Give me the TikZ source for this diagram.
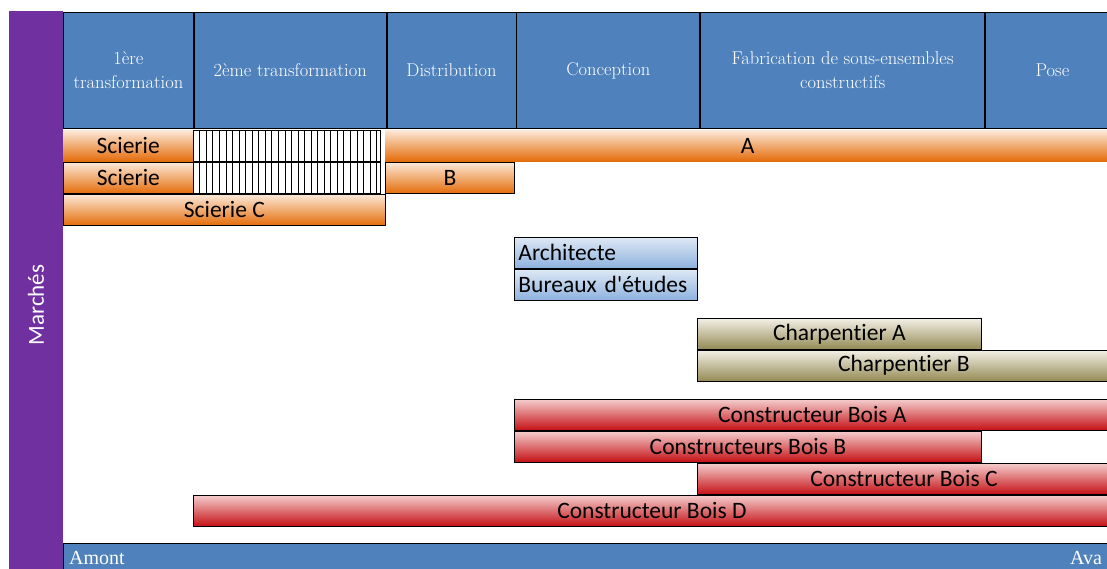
\documentclass[tikz,border=0pt]{standalone}
\usepackage{fontspec}
\newfontfamily\barfont[Ligatures=NoCommon]{Carlito}
\newfontfamily\axisfont{Liberation Serif}
\usetikzlibrary{positioning}

\definecolor{hdrblue}{RGB}{79,129,189}
\definecolor{marchepurple}{RGB}{112,48,160}
\definecolor{orangetop}{RGB}{252,232,216}
\definecolor{orangebot}{RGB}{228,108,10}
\definecolor{redtop}{RGB}{244,204,204}
\definecolor{redbot}{RGB}{196,16,20}
\definecolor{bluetop}{RGB}{222,232,244}
\definecolor{bluebot}{RGB}{141,178,222}
\definecolor{tantop}{RGB}{242,240,230}
\definecolor{tanbot}{RGB}{148,138,84}

\tikzset{
  hdr/.style={draw, line width=0.8pt, fill=hdrblue, text=white, align=center, inner sep=0pt,
    minimum height=116, anchor=north west, font=\fontsize{18.5}{24}\selectfont},
  bar/.style={inner sep=0pt, minimum height=31, anchor=north west, font=\barfont\fontsize{23.5}{26}\selectfont},
  orangebar/.style={bar, top color=orangetop, bottom color=orangebot},
  orangebox/.style={orangebar, draw, line width=0.8pt},
  redbox/.style={bar, draw, line width=0.8pt, top color=redtop, bottom color=redbot},
  bluebox/.style={bar, draw, line width=0.8pt, top color=bluetop, bottom color=bluebot,
    inner xsep=4pt, text width=175, align=left},
  tanbox/.style={bar, draw, line width=0.8pt, top color=tantop, bottom color=tanbot},
  hatchcell/.style={draw, line width=0.8pt, fill=white, inner sep=0pt, minimum width=187,
    minimum height=31, anchor=north west}
}

\begin{document}
\begin{tikzpicture}[x=1pt, y=-1pt]
\useasboundingbox (0,0) rectangle (1107,569);
\clip (0,0) rectangle (1107,569);

% side band
\node[fill=marchepurple, inner sep=0pt, minimum width=54, minimum height=560, anchor=north west] (marche) at (9,11) {};
\node[rotate=90, text=white, font=\barfont\fontsize{23}{26}\selectfont] (marchetxt) at (36,305) {Marchés};

% header row
\node[hdr, minimum width=130] (col1) at (63,12) {1ère\\transformation};
\node[hdr, minimum width=192] (col2) at (col1.north east) {2ème transformation};
\node[hdr, minimum width=129] (col3) at (col2.north east) {Distribution};
\node[hdr, minimum width=183] (col4) at (col3.north east) {Conception};
\node[hdr, minimum width=284] (col5) at (col4.north east) {Fabrication de sous-ensembles\\constructifs};
\node[hdr, minimum width=134] (col6) at (col5.north east) {Pose};

% scieries
\node[orangebar, minimum width=130] (scierieA) at (63,130) {Scierie};
\node[hatchcell] (hatchA) at (193,130) {};
\node[orangebar, minimum width=725] (negA) at (385,130) {A};
\node[orangebox, minimum width=130] (scierieB) at (63,162) {Scierie};
\node[hatchcell] (hatchB) at (193,162) {};
\node[orangebox, minimum width=129] (negB) at (385,162) {B};
\node[orangebox, minimum width=322] (scierieC) at (63,194) {Scierie C};
\foreach \k in {1,...,28} {
  \draw ([xshift=\k*6.55pt]hatchA.north west) -- ([xshift=\k*6.55pt]hatchA.south west);
  \draw ([xshift=\k*6.55pt]hatchB.north west) -- ([xshift=\k*6.55pt]hatchB.south west);
}

% conception
\node[bluebox] (archi) at (514,237) {Architecte};
\node[bluebox] (bureaux) at (archi.south west) {Bureaux d'études};

% charpentiers
\node[tanbox, minimum width=284] (charpA) at (697,318) {Charpentier A};
\node[tanbox, minimum width=413] (charpB) at (charpA.south west) {Charpentier B};

% constructeurs bois
\node[redbox, minimum width=596] (cbA) at (514,399) {Constructeur Bois A};
\node[redbox, minimum width=467] (cbB) at (cbA.south west) {Constructeurs Bois B};
\node[redbox, minimum width=413] (cbC) at (697,463) {Constructeur Bois C};
\node[redbox, minimum width=917] (cbD) at (193,495) {Constructeur Bois D};

% axe amont / aval
\node[draw, line width=0.8pt, fill=hdrblue, inner sep=0pt, minimum width=1050, minimum height=40, anchor=north west] (axis) at (63,543) {};
\node[anchor=base west, text=white, inner sep=0pt, font=\axisfont\fontsize{20}{22}\selectfont] (amont) at (69,564) {Amont};
\node[anchor=base west, text=white, inner sep=0pt, font=\axisfont\fontsize{20}{22}\selectfont] (aval) at (1070,564) {Ava};
\end{tikzpicture}
\end{document}
